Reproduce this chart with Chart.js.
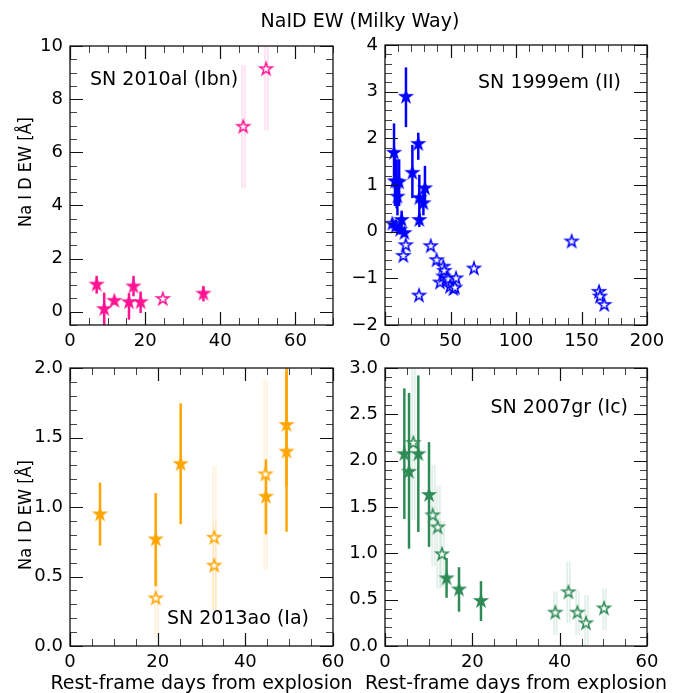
<!DOCTYPE html>
<html><head><meta charset="utf-8">
<script src="https://cdn.jsdelivr.net/npm/chart.js@4.4.1/dist/chart.umd.min.js"></script>
<style>
html,body{margin:0;padding:0;background:#fff;}
#wrap{position:relative;width:681px;height:693px;overflow:hidden;font-family:"DejaVu Sans",sans-serif;}
#wrap canvas{position:absolute;left:0;top:0;}
.lbl{position:absolute;white-space:nowrap;color:#000;line-height:1;transform-origin:50% 50%;}
</style></head><body>
<div id="wrap">
<canvas id="c0" width="681" height="693"></canvas>
<canvas id="c1" width="681" height="693"></canvas>
<canvas id="c2" width="681" height="693"></canvas>
<canvas id="c3" width="681" height="693"></canvas>
<div class="lbl" id="title" style="font-size:19px;left:360px;top:20px;transform:translate(-50%,-50%);">NaID EW (Milky Way)</div>
<div class="lbl" style="font-size:18px;left:25px;top:172px;transform:translate(-50%,-50%) rotate(-90deg) scaleX(0.9);">Na I D EW [Å]</div>
<div class="lbl" style="font-size:18px;left:25px;top:515px;transform:translate(-50%,-50%) rotate(-90deg) scaleX(0.9);">Na I D EW [Å]</div>
<div class="lbl" style="font-size:19px;left:201.5px;top:682px;transform:translate(-50%,-50%);">Rest-frame days from explosion</div>
<div class="lbl" style="font-size:19px;left:516px;top:682px;transform:translate(-50%,-50%);">Rest-frame days from explosion</div>
</div>
<script>
// ---------- DATA ----------
// SN 2010al (Ibn)
const al_fx  = [7.1, 9.1, 11.8, 15.7, 16.9, 18.8, 35.5];
const al_fy  = [1.02, 0.10, 0.41, 0.36, 0.95, 0.36, 0.68];
const al_flo = [0.68, -0.55, 0.27, -0.30, 0.58, -0.05, 0.39];
const al_fhi = [1.35, 0.72, 0.56, 0.70, 1.35, 0.76, 0.96];
const al_ox  = [24.7, 46.1, 52.2];
const al_oy  = [0.48, 6.96, 9.13];
const al_olo = [0.48, 4.65, 6.82];
const al_ohi = [0.48, 9.28, 11.45];

// SN 1999em (II)
const em_fx  = [5.6, 6.9, 7.6, 8.9, 10.8, 9.5, 8.1, 11.5, 12.7, 14.8, 16.0, 20.9, 25.4, 26.2, 26.2, 29.3, 30.5];
const em_fy  = [0.17, 1.69, 1.08, 1.07, 1.06, 0.75, 0.11, 0.04, 0.25, -0.03, 2.89, 1.26, 1.88, 0.72, 0.25, 0.61, 0.93];
const em_flo = [0.07, 1.00, 0.55, 0.50, 0.55, 0.35, 0.00, -0.06, 0.10, -0.10, 2.24, 0.72, 1.54, 0.20, 0.10, 0.35, 0.61];
const em_fhi = [0.27, 2.32, 1.60, 1.55, 1.55, 1.15, 0.25, 0.14, 0.45, 0.05, 3.52, 1.86, 2.12, 1.22, 0.40, 0.85, 1.41];
const em_ox  = [14.0, 15.8, 26.0, 34.9, 39.4, 42.0, 44.5, 44.6, 45.3, 47.0, 48.4, 49.6, 52.2, 53.4, 54.2, 67.9, 142.5, 163.4, 164.1, 167.4];
const em_oy  = [-0.52, -0.29, -1.37, -0.31, -0.61, -1.09, -0.75, -0.96, -0.84, -1.00, -1.02, -1.18, -1.23, -1.20, -1.00, -0.79, -0.21, -1.29, -1.39, -1.57];
const em_olo = em_oy;
const em_ohi = em_oy;

// SN 2013ao (Ia)
const ao_fx  = [6.85, 19.55, 25.25, 44.7, 49.4, 49.4];
const ao_fy  = [0.947, 0.767, 1.309, 1.074, 1.398, 1.59];
const ao_flo = [0.722, 0.43, 0.876, 0.804, 0.822, 1.15];
const ao_fhi = [1.175, 1.10, 1.746, 1.343, 1.975, 2.05];
const ao_ox  = [19.55, 32.9, 32.9, 44.6];
const ao_oy  = [0.343, 0.779, 0.578, 1.235];
const ao_olo = [0.063, 0.26, 0.26, 0.55];
const ao_ohi = [0.62, 1.29, 0.90, 1.92];

// SN 2007gr (Ic)
const gr_fx  = [4.43, 5.5, 7.63, 10.08, 14.1, 16.95, 21.98];
const gr_fy  = [2.07, 1.88, 2.07, 1.63, 0.73, 0.61, 0.486];
const gr_flo = [1.37, 1.05, 1.23, 1.07, 0.52, 0.37, 0.27];
const gr_fhi = [2.78, 2.73, 2.92, 2.20, 0.95, 0.85, 0.70];
const gr_ox  = [6.49, 10.92, 12.07, 13.05, 39.0, 42.0, 44.06, 46.03, 50.15];
const gr_oy  = [2.19, 1.41, 1.28, 0.99, 0.36, 0.58, 0.36, 0.245, 0.406];
const gr_olo = [1.36, 0.86, 0.62, 0.63, 0.12, 0.245, 0.12, -0.06, 0.17];
const gr_ohi = [3.02, 1.95, 1.73, 1.35, 0.59, 0.91, 0.60, 0.55, 0.62];

// tick labels
const ticksX_al = [0, 20, 40, 60];
const ticksY_al = [0, 2, 4, 6, 8, 10];
const ticksX_em = [0, 50, 100, 150, 200];
const ticksY_em = [-2, -1, 0, 1, 2, 3, 4];
const ticksX_ao = [0, 20, 40, 60];
const ticksY_ao = [0, 0.5, 1.0, 1.5, 2.0];
const ticksX_gr = [0, 20, 40, 60];
const ticksY_gr = [0, 0.5, 1.0, 1.5, 2.0, 2.5, 3.0];

const labels = ['SN 2010al (Ibn)', 'SN 1999em (II)', 'SN 2013ao (Ia)', 'SN 2007gr (Ic)'];

// ---------- DRAWING ----------
const W = 681, H = 693;
function starImg(color, filled) {
  const s = 28, c = document.createElement('canvas');
  c.width = c.height = s;
  const g = c.getContext('2d');
  const R = filled ? 6.6 : 6.4, r = R * 0.381966;
  g.beginPath();
  for (let k = 0; k < 10; k++) {
    const ang = -Math.PI / 2 + k * Math.PI / 5;
    const rad = (k % 2) ? r : R;
    g.lineTo(s / 2 + rad * Math.cos(ang), s / 2 + rad * Math.sin(ang));
  }
  g.closePath();
  g.fillStyle = filled ? color : '#fff';
  g.fill();
  g.lineJoin = 'miter';
  g.lineWidth = filled ? 1.2 : 1.5;
  g.strokeStyle = color;
  g.stroke();
  return c;
}
function rgba(hex, a) {
  const n = parseInt(hex.slice(1), 16);
  return `rgba(${(n >> 16) & 255},${(n >> 8) & 255},${n & 255},${a})`;
}
function minorVals(min, max, step) {
  const out = [];
  const s = Math.ceil(min / step - 1e-9);
  for (let k = s; k * step <= max + 1e-9; k++) out.push(+(k * step).toFixed(6));
  return out;
}

const framePlugin = {
  id: 'frame',
  beforeDatasetsDraw(chart) {
    const p = chart.options.plugins.frame;
    const { ctx, chartArea: a } = chart;
    const xs = chart.scales.x, ys = chart.scales.y;
    ctx.save();
    ctx.beginPath();
    ctx.rect(a.left, a.top, a.right - a.left, a.bottom - a.top);
    ctx.clip();
    // faint error bars for open stars
    p.ox.forEach((xv, i) => {
      const lo = p.olo[i], hi = p.ohi[i];
      if (lo === hi) return;
      const px = Math.round(xs.getPixelForValue(xv)) + 0.5;
      const y1 = ys.getPixelForValue(lo), y2 = ys.getPixelForValue(hi);
      ctx.fillStyle = rgba(p.color, 0.03);
      ctx.fillRect(px - 1.5, y2, 3, y1 - y2);
      ctx.strokeStyle = rgba(p.color, 0.2);
      ctx.lineWidth = 1;
      ctx.beginPath();
      ctx.moveTo(px - 1.5, y1); ctx.lineTo(px - 1.5, y2);
      ctx.moveTo(px + 1.5, y1); ctx.lineTo(px + 1.5, y2);
      ctx.stroke();
    });
    // solid error bars for filled stars
    p.fx.forEach((xv, i) => {
      const px = xs.getPixelForValue(xv);
      ctx.strokeStyle = p.color;
      ctx.lineWidth = 2.5;
      ctx.beginPath();
      ctx.moveTo(px, ys.getPixelForValue(p.flo[i]));
      ctx.lineTo(px, ys.getPixelForValue(p.fhi[i]));
      ctx.stroke();
    });
    ctx.restore();
  },
  afterDraw(chart) {
    const p = chart.options.plugins.frame;
    const { ctx, chartArea: a } = chart;
    const xs = chart.scales.x, ys = chart.scales.y;
    ctx.save();
    const MAJ = 13, MIN = 7;
    const drawX = (vals, len, col, lw) => {
      ctx.strokeStyle = col; ctx.lineWidth = lw; ctx.beginPath();
      vals.forEach(v => {
        const px = Math.round(xs.getPixelForValue(v)) + 0.5;
        ctx.moveTo(px, a.bottom); ctx.lineTo(px, a.bottom - len);
        ctx.moveTo(px, a.top); ctx.lineTo(px, a.top + len);
      });
      ctx.stroke();
    };
    const drawY = (vals, len, col, lw) => {
      ctx.strokeStyle = col; ctx.lineWidth = lw; ctx.beginPath();
      vals.forEach(v => {
        const py = Math.round(ys.getPixelForValue(v)) + 0.5;
        ctx.moveTo(a.left, py); ctx.lineTo(a.left + len, py);
        ctx.moveTo(a.right, py); ctx.lineTo(a.right - len, py);
      });
      ctx.stroke();
    };
    const xMaj = p.xTicks, yMaj = p.yTicks;
    const xMin = minorVals(xs.min, xs.max, p.xMinor).filter(v => !xMaj.some(m => Math.abs(m - v) < 1e-6));
    const yMin = minorVals(ys.min, ys.max, p.yMinor).filter(v => !yMaj.some(m => Math.abs(m - v) < 1e-6));
    drawX(xMin, MIN, '#444', 1);
    drawY(yMin, MIN, '#444', 1);
    drawX(xMaj, MAJ, '#111', 1.2);
    drawY(yMaj, MAJ, '#111', 1.2);
    // frame
    ctx.strokeStyle = '#111';
    ctx.lineWidth = 1.3;
    ctx.strokeRect(a.left, a.top, a.right - a.left, a.bottom - a.top);
    // annotation
    ctx.fillStyle = '#000';
    ctx.font = '19px "DejaVu Sans"';
    ctx.textBaseline = 'middle';
    ctx.textAlign = p.anchor;
    const tx = p.anchor === 'left' ? a.left + p.dx : a.right - p.dx;
    ctx.fillText(p.text, tx, a.top + p.dy);
    ctx.restore();
  }
};

const fmtInt = v => (v < 0 ? '\u2212' + Math.abs(v) : String(v));
const fmt1 = v => v.toFixed(1);

function makeChart(id, P) {
  const font = { family: 'DejaVu Sans', size: 18 };
  new Chart(document.getElementById(id), {
    type: 'scatter',
    data: {
      datasets: [
        { data: P.fx.map((x, i) => ({ x, y: P.fy[i] })), pointStyle: starImg(P.color, true), pointRadius: 7 },
        { data: P.ox.map((x, i) => ({ x, y: P.oy[i] })), pointStyle: starImg(P.color, false), pointRadius: 7 }
      ]
    },
    options: {
      responsive: false, animation: false, events: [],
      layout: { padding: { left: 0, top: P.area.top, right: W - P.area.right, bottom: 0 } },
      plugins: {
        legend: { display: false }, tooltip: { enabled: false },
        frame: {
          color: P.color, fx: P.fx, flo: P.flo, fhi: P.fhi, ox: P.ox, olo: P.olo, ohi: P.ohi,
          xTicks: P.xTicks, yTicks: P.yTicks, xMinor: P.xMinor, yMinor: P.yMinor,
          text: P.text, anchor: P.anchor, dx: P.dx, dy: P.dy
        }
      },
      scales: {
        x: {
          type: 'linear', min: P.xRange[0], max: P.xRange[1],
          afterFit: s => { s.height = H - P.area.bottom; },
          afterBuildTicks: s => { s.ticks = P.xTicks.map(v => ({ value: v })); },
          grid: { display: false, drawTicks: false }, border: { display: false },
          ticks: { padding: 6, font, color: '#000', maxRotation: 0, autoSkip: false, callback: v => fmtInt(v) }
        },
        y: {
          type: 'linear', min: P.yRange[0], max: P.yRange[1],
          afterFit: s => { s.width = P.area.left; },
          afterBuildTicks: s => { s.ticks = P.yTicks.map(v => ({ value: v })); },
          grid: { display: false, drawTicks: false }, border: { display: false },
          ticks: { padding: 7, font, color: '#000', autoSkip: false, callback: P.yFmt }
        }
      }
    },
    plugins: [framePlugin]
  });
}

makeChart('c0', {
  color: '#FF1493', fx: al_fx, fy: al_fy, flo: al_flo, fhi: al_fhi, ox: al_ox, oy: al_oy, olo: al_olo, ohi: al_ohi,
  xRange: [0, 70], yRange: [-0.5, 10], xTicks: ticksX_al, yTicks: ticksY_al, xMinor: 5, yMinor: 0.5,
  area: { left: 70, right: 333, top: 46, bottom: 325 }, yFmt: fmtInt,
  text: labels[0], anchor: 'left', dx: 20, dy: 34
});
makeChart('c1', {
  color: '#0000FF', fx: em_fx, fy: em_fy, flo: em_flo, fhi: em_fhi, ox: em_ox, oy: em_oy, olo: em_olo, ohi: em_ohi,
  xRange: [0, 200], yRange: [-2, 4], xTicks: ticksX_em, yTicks: ticksY_em, xMinor: 10, yMinor: 0.2,
  area: { left: 385, right: 647, top: 45, bottom: 325 }, yFmt: fmtInt,
  text: labels[1], anchor: 'right', dx: 26, dy: 38
});
makeChart('c2', {
  color: '#FFA500', fx: ao_fx, fy: ao_fy, flo: ao_flo, fhi: ao_fhi, ox: ao_ox, oy: ao_oy, olo: ao_olo, ohi: ao_ohi,
  xRange: [0, 60], yRange: [0, 2], xTicks: ticksX_ao, yTicks: ticksY_ao, xMinor: 5, yMinor: 0.1,
  area: { left: 70, right: 333, top: 368, bottom: 646 }, yFmt: fmt1,
  text: labels[2], anchor: 'right', dx: 24, dy: 251
});
makeChart('c3', {
  color: '#2E8B57', fx: gr_fx, fy: gr_fy, flo: gr_flo, fhi: gr_fhi, ox: gr_ox, oy: gr_oy, olo: gr_olo, ohi: gr_ohi,
  xRange: [0, 60], yRange: [0, 3], xTicks: ticksX_gr, yTicks: ticksY_gr, xMinor: 5, yMinor: 0.1,
  area: { left: 385, right: 647, top: 368, bottom: 646 }, yFmt: fmt1,
  text: labels[3], anchor: 'right', dx: 19, dy: 40
});
</script>
</body></html>
